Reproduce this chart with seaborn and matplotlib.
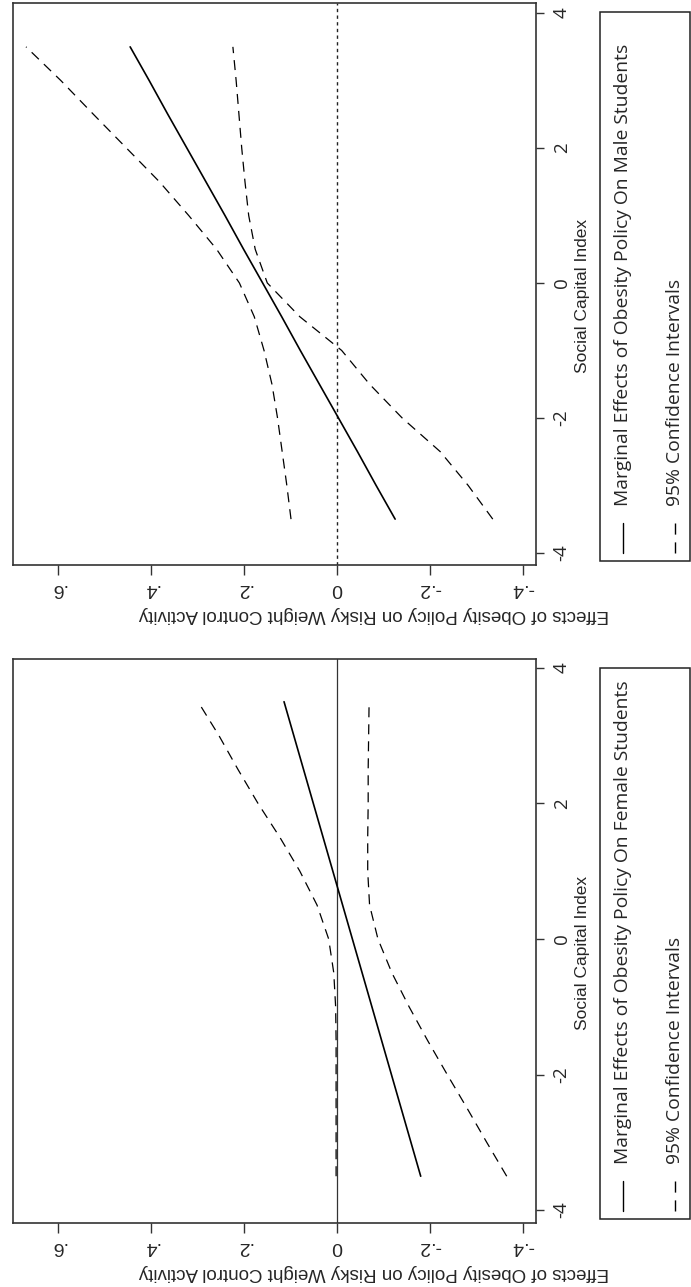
import numpy as np
import pandas as pd
import matplotlib
matplotlib.use("Agg")
import matplotlib.pyplot as plt
import seaborn as sns
from matplotlib.lines import Line2D
from matplotlib.patches import Rectangle

sns.set_theme(style="white")
plt.rcParams["font.family"] = ["Liberation Sans", "DejaVu Sans"]

# Social capital index grid
sci = [-3.5, -3.0, -2.5, -2.0, -1.5, -1.0, -0.5, 0.0, 0.5, 1.0, 1.5, 2.0, 2.5, 3.0, 3.5]

# Male students: marginal effect and 95% CI
male_effect = [-0.125, -0.084, -0.044, -0.003, 0.038, 0.079, 0.119, 0.160,
               0.201, 0.241, 0.282, 0.323, 0.364, 0.404, 0.445]
male_upper = [0.099, 0.108, 0.118, 0.128, 0.140, 0.157, 0.178, 0.210,
              0.259, 0.319, 0.382, 0.453, 0.524, 0.594, 0.669]
male_lower = [-0.335, -0.282, -0.222, -0.140, -0.070, -0.010, 0.080, 0.150,
              0.176, 0.190, 0.198, 0.205, 0.211, 0.217, 0.224]

# Female students: marginal effect and 95% CI
female_effect = [-0.180, -0.159, -0.138, -0.117, -0.096, -0.075, -0.054, -0.033,
                 -0.012, 0.009, 0.030, 0.051, 0.072, 0.093, 0.114]
female_upper = [0.002, 0.002, 0.002, 0.002, 0.002, 0.003, 0.007, 0.018,
                0.043, 0.080, 0.123, 0.170, 0.213, 0.254, 0.299]
female_lower = [-0.365, -0.322, -0.280, -0.237, -0.195, -0.155, -0.118, -0.088,
                -0.070, -0.066, -0.066, -0.067, -0.067, -0.068, -0.069]

value_ticks = [-0.4, -0.2, 0.0, 0.2, 0.4, 0.6]
value_tick_labels = ["-.4", "-.2", "0", ".2", ".4", ".6"]
sci_ticks = [-4, -2, 0, 2, 4]
sci_tick_labels = ["-4", "-2", "0", "2", "4"]
value_title = "Effects of Obesity Policy on Risky Weight Control Activity"
sci_title = "Social Capital Index"
ci_label = "95% Confidence Intervals"
male_label = "Marginal Effects of Obesity Policy On Male Students"
female_label = "Marginal Effects of Obesity Policy On Female Students"

W, H = 691, 1287
fig = plt.figure(figsize=(W / 100, H / 100), dpi=100)
fig.patch.set_facecolor("white")

DASH = (0, (8, 5.6))
HUMANIST = ["Open Sans", "DejaVu Sans"]
VALUE_TICK_FONT = 14
SCI_TICK_FONT = 13.5
VALUE_TITLE_FONT = 13.5
SCI_TITLE_FONT = 12.5
LEGEND_FONT = 13.9


def fig_rect(x0, y0, x1, y1):
    return [x0 / W, 1 - y1 / H, (x1 - x0) / W, (y1 - y0) / H]


def px(x, y):
    return x / W, 1 - y / H


def draw_panel(top, bottom, effect, upper, lower, label, zero_style, ylim):
    ax = fig.add_axes(fig_rect(13, top, 536, bottom))
    df = pd.DataFrame({"sci": sci, "effect": effect, "upper": upper, "lower": lower})

    if zero_style == "dotted":
        ax.axvline(0, color="#222222", lw=1.0, ls=(0, (2.4, 2.4)), zorder=1)
    else:
        ax.axvline(0, color="#333333", lw=0.9, zorder=1)

    sns.lineplot(data=df, x="effect", y="sci", sort=False, estimator=None,
                 color="black", lw=1.2, ax=ax, zorder=3)
    sns.lineplot(data=df, x="upper", y="sci", sort=False, estimator=None,
                 color="black", lw=0.9, linestyle=DASH, ax=ax, zorder=3)
    sns.lineplot(data=df, x="lower", y="sci", sort=False, estimator=None,
                 color="black", lw=0.9, linestyle=DASH, ax=ax, zorder=3)

    ax.set_xlim(0.697, -0.428)
    ax.set_ylim(*ylim)
    ax.set_facecolor("white")
    for s in ax.spines.values():
        s.set_visible(True)
        s.set_color("#333333")
        s.set_linewidth(1.2)

    ax.set_xticks(value_ticks)
    ax.set_xticklabels(value_tick_labels, rotation=180, fontsize=VALUE_TICK_FONT)
    ax.xaxis.tick_bottom()
    ax.tick_params(axis="x", direction="out", length=7, width=1.0,
                   color="#333333", pad=4, bottom=True)

    ax.yaxis.tick_right()
    ax.set_yticks(sci_ticks)
    ax.set_yticklabels(sci_tick_labels, rotation=90, va="center",
                       fontsize=SCI_TICK_FONT, family=HUMANIST)
    ax.tick_params(axis="y", direction="out", length=6, width=1.0,
                   color="#333333", pad=6, right=True, left=False)
    ax.grid(False)

    ax.set_xlabel(value_title, rotation=180, fontsize=VALUE_TITLE_FONT,
                  ha="center", va="center", rotation_mode="anchor")
    ax.xaxis.set_label_coords((374 - 13) / 523, -(50) / (bottom - top))
    ax.yaxis.set_label_position("right")
    ax.set_ylabel(sci_title, rotation=90, fontsize=SCI_TITLE_FONT,
                  ha="center", va="center", rotation_mode="anchor")
    ax.yaxis.set_label_coords((582 - 13) / 523, 0.478)

    # legend box drawn sideways to the right of the plot
    leg_top, leg_bottom = top + 9, bottom - 4
    fig.add_artist(Rectangle(px(600, leg_bottom), (690 - 600) / W,
                             (leg_bottom - leg_top) / H,
                             transform=fig.transFigure, fill=False,
                             ec="#222222", lw=1.1))
    key_bot, key_top = bottom - 12, bottom - 42
    for xk, style, text in [(623, "-", label), (675, DASH, ci_label)]:
        x0, y0 = px(xk, key_bot)
        x1, y1 = px(xk, key_top)
        fig.add_artist(Line2D([x0, x1], [y0, y1], transform=fig.transFigure,
                              color="black", lw=1.0, ls=style))
        tx, ty = px(xk, key_top - 17)
        fig.text(tx, ty, text, rotation=90, rotation_mode="anchor",
                 ha="left", va="center", fontsize=LEGEND_FONT,
                 family=HUMANIST)
    return ax


draw_panel(3, 565, male_effect, male_upper, male_lower, male_label,
           "dotted", (-4.18, 4.15))
draw_panel(659, 1223, female_effect, female_upper, female_lower, female_label,
           "solid", (-4.19, 4.13))

fig.savefig("out.png", dpi=100, facecolor="white")
